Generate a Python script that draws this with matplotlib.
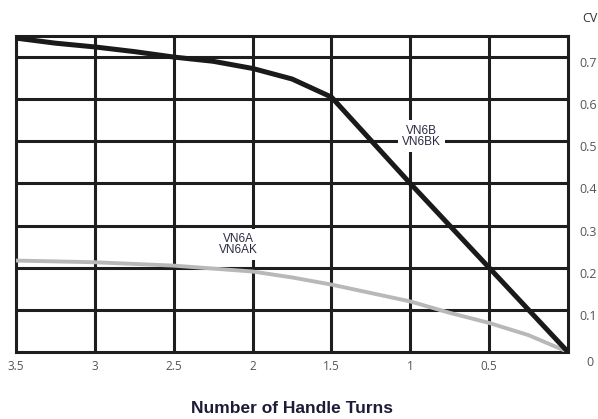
import matplotlib
matplotlib.use("Agg")
import matplotlib.pyplot as plt

# Data
turns_b = [3.5, 3.25, 3.0, 2.75, 2.5, 2.25, 2.0, 1.75, 1.5, 1.0, 0.5, 0.0]
cv_vn6b = [0.745, 0.733, 0.724, 0.713, 0.700, 0.690, 0.673, 0.648, 0.605, 0.40, 0.20, 0.0]
turns_a = [3.5, 3.0, 2.5, 2.0, 1.75, 1.5, 1.25, 1.0, 0.75, 0.5, 0.25, 0.0]
cv_vn6a = [0.217, 0.213, 0.205, 0.191, 0.177, 0.160, 0.140, 0.120, 0.093, 0.069, 0.040, 0.0]
xticks = [3.5, 3.0, 2.5, 2.0, 1.5, 1.0, 0.5]
xtick_labels = ["3.5", "3", "2.5", "2", "1.5", "1", "0.5"]
yticks = [0.1, 0.2, 0.3, 0.4, 0.5, 0.6, 0.7]
ytick_labels = ["0.1", "0.2", "0.3", "0.4", "0.5", "0.6", "0.7"]

plt.rcParams['font.family'] = ['Open Sans', 'DejaVu Sans']

fig = plt.figure(figsize=(5.98, 4.19), dpi=100)
ax = fig.add_axes([16/598, 1-352/419, (568-16)/598, (352-36)/419])
ax.set_xlim(3.5, 0)
ax.set_ylim(0, 0.75)

# grid
for x in xticks[1:]:
    ax.axvline(x, color='#1e1e1e', lw=2.2, zorder=1)
for y in yticks:
    ax.axhline(y, color='#1e1e1e', lw=2.2, zorder=1)
for s in ax.spines.values():
    s.set_color('#1e1e1e')
    s.set_linewidth(2.2)

ax.plot(turns_a, cv_vn6a, color='#b8b8b8', lw=2.8, zorder=3,
        solid_capstyle='round', solid_joinstyle='round')
ax.plot(turns_b, cv_vn6b, color='#1a1a1a', lw=3.6, zorder=4,
        solid_capstyle='round', solid_joinstyle='round')

ax.set_xticks(xticks)
ax.set_xticklabels(xtick_labels, fontsize=8.5, color='#555555')
ax.tick_params(axis='x', length=0, pad=6)
ax.yaxis.tick_right()
ax.set_yticks(yticks)
ax.set_yticklabels(ytick_labels, fontsize=9, color='#555555')
ax.tick_params(axis='y', length=0, pad=8)
for lbl in ax.get_yticklabels():
    lbl.set_va('top')

fig.text(590/598, 1-362/419, "0", fontsize=9, color='#555555', ha='center', va='center')
fig.text(590/598, 1-18/419, "CV", fontsize=9, color='#333333', ha='center', va='center')

box = dict(facecolor='white', edgecolor='none', boxstyle='square,pad=0.35')
lab_font = ['Liberation Sans', 'DejaVu Sans']
ax.text(0.93, 0.512, "VN6B\nVN6BK", fontsize=8.5, color='#2a2a44', ha='center', va='center',
        linespacing=0.95, bbox=box, zorder=5, family=lab_font)
ax.text(2.09, 0.255, "VN6A\nVN6AK", fontsize=8.5, color='#2a2a44', ha='center', va='center',
        linespacing=0.95, bbox=box, zorder=5, family=lab_font)

fig.text(292/598, 1-408/419, "Number of Handle Turns", fontsize=12.5, fontweight='bold',
         color='#1c1c38', ha='center', va='center', family=['Liberation Sans', 'DejaVu Sans'])

fig.savefig("out.png", dpi=100)
